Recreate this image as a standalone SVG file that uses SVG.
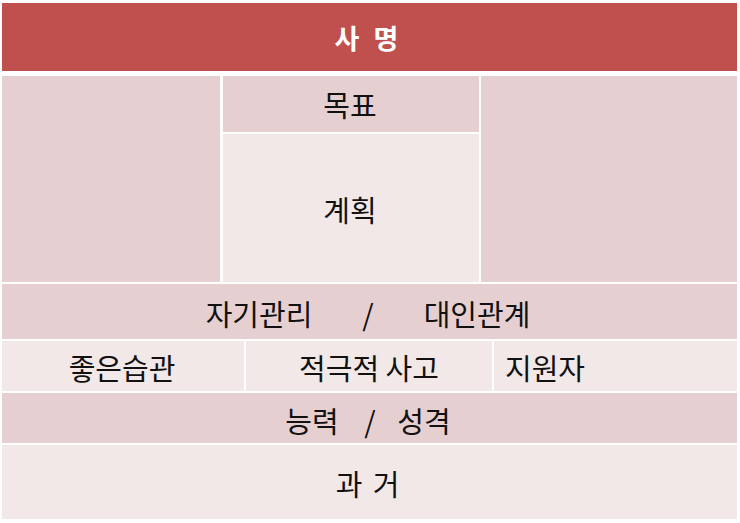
<svg xmlns="http://www.w3.org/2000/svg" width="740" height="523" viewBox="0 0 740 523">
<style>
.hd{fill:#C0504D}
.dk{fill:#E6CFD0}
.lt{fill:#F2E8E8}
text{font-family:"Noto Sans CJK KR","Noto Sans",sans-serif;font-size:29px;fill:#111;text-anchor:middle;dominant-baseline:central}
.w{fill:#fff;font-weight:bold;font-size:27px}
</style>
<rect width="740" height="523" fill="#fff"/>
<g id="mission"><rect class="hd" x="2" y="3" width="735" height="68"/><text class="w" y="37"><tspan x="347">사</tspan><tspan x="386">명</tspan></text></g>
<g id="left-blank"><rect class="dk" x="2" y="76" width="218" height="206"/></g>
<g id="goal"><rect class="dk" x="223" y="76" width="256" height="56"/><text x="350" y="104">목표</text></g>
<g id="plan"><rect class="lt" x="223" y="134" width="256" height="148"/><text x="350" y="209">계획</text></g>
<g id="right-blank"><rect class="dk" x="481" y="76" width="256" height="206"/></g>
<g id="self-relation"><rect class="dk" x="2" y="284" width="735" height="55"/><text y="313"><tspan x="259">자기관리</tspan><tspan x="368">/</tspan><tspan x="477">대인관계</tspan></text></g>
<g id="habit"><rect class="lt" x="2" y="341" width="242" height="50"/><text x="122" y="367">좋은습관</text></g>
<g id="positive"><rect class="lt" x="246" y="341" width="246" height="50"/><text x="369" y="367">적극적 사고</text></g>
<g id="supporter"><rect class="lt" x="494" y="341" width="243" height="50"/><text x="545" y="367">지원자</text></g>
<g id="ability"><rect class="dk" x="2" y="393" width="735" height="50"/><text y="420"><tspan x="312">능력</tspan><tspan x="370">/</tspan><tspan x="424">성격</tspan></text></g>
<g id="past"><rect class="lt" x="2" y="445" width="735" height="74"/><text y="483"><tspan x="349">과</tspan><tspan x="386">거</tspan></text></g>
<g id="connectors"></g>
</svg>
